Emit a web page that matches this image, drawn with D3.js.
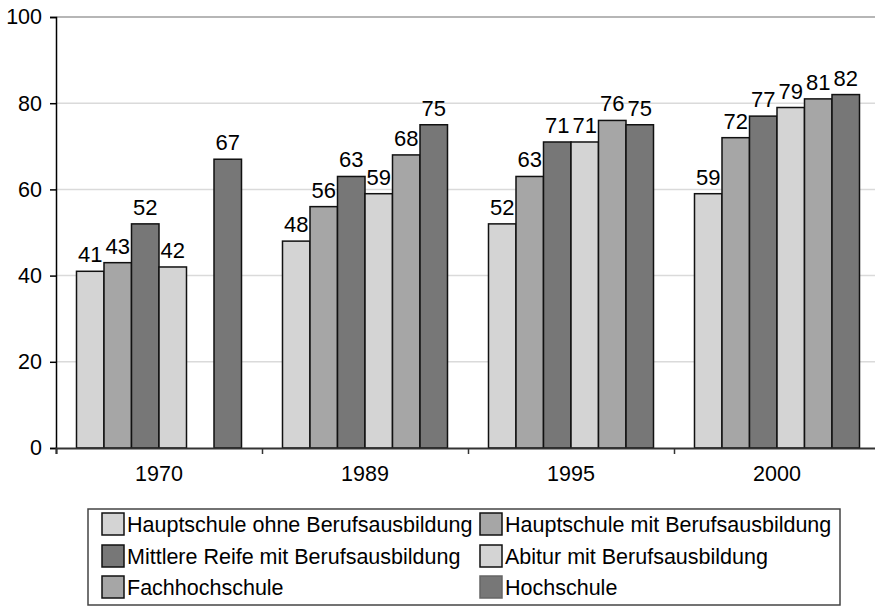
<!DOCTYPE html>
<html>
<head>
<meta charset="utf-8">
<script src="https://cdn.jsdelivr.net/npm/d3@7"></script>
<style>
  body { margin: 0; background: #fff; }
  svg { display: block; font-family: Arial, "Liberation Sans", sans-serif; }
</style>
</head>
<body>
<script>
  const years = ['1970', '1989', '1995', '2000']
  const series = [
    'Hauptschule ohne Berufsausbildung',
    'Hauptschule mit Berufsausbildung',
    'Mittlere Reife mit Berufsausbildung',
    'Abitur mit Berufsausbildung',
    'Fachhochschule',
    'Hochschule'
  ]
  const hauptOhne = [41, 48, 52, 59]
  const hauptMit = [43, 56, 63, 72]
  const mittlereReife = [52, 63, 71, 77]
  const abitur = [42, 59, 71, 79]
  const fachhochschule = [null, 68, 76, 81]
  const hochschule = [67, 75, 75, 82]
  const yTicks = [0, 20, 40, 60, 80, 100]

  const values = [hauptOhne, hauptMit, mittlereReife, abitur, fachhochschule, hochschule]
  const colors = ['#d4d4d4', '#a6a6a6', '#777777', '#d4d4d4', '#a6a6a6', '#777777']

  let size = { width: 875, height: 607 }
  let plot = { left: 56, right: 880, top: 17, bottom: 448 }

  let svg = d3.select('body')
    .append('svg')
    .attr('width', size.width)
    .attr('height', size.height)

  let y = d3.scaleLinear()
    .domain([0, 100])
    .range([plot.bottom, plot.top])

  let x0 = d3.scaleBand()
    .domain(years)
    .range([plot.left, plot.right])
    .paddingInner(0.199)
    .paddingOuter(0.0995)

  let x1 = d3.scaleBand()
    .domain(d3.range(series.length))
    .range([0, x0.bandwidth()])

  // gridlines
  svg.append('g')
    .selectAll('line')
    .data(yTicks.filter(t => t > 0))
    .enter()
    .append('line')
    .attr('x1', plot.left)
    .attr('x2', plot.right)
    .attr('y1', d => y(d))
    .attr('y2', d => y(d))
    .attr('stroke', d => d === 100 ? '#9e9e9e' : '#dadada')
    .attr('stroke-width', 1.5)

  // bars
  let rows = []
  years.forEach((yr, i) => {
    values.forEach((arr, s) => {
      if (arr[i] != null) rows.push({ year: yr, s: s, v: arr[i] })
    })
  })

  svg.append('g')
    .selectAll('rect')
    .data(rows)
    .enter()
    .append('rect')
    .attr('x', d => x0(d.year) + x1(d.s))
    .attr('y', d => y(d.v))
    .attr('width', x1.bandwidth())
    .attr('height', d => y(0) - y(d.v))
    .attr('fill', d => colors[d.s])
    .attr('stroke', '#111')
    .attr('stroke-width', 1.5)

  svg.append('g')
    .selectAll('text')
    .data(rows)
    .enter()
    .append('text')
    .attr('x', d => x0(d.year) + x1(d.s) + x1.bandwidth() / 2)
    .attr('y', d => y(d.v) - 9)
    .attr('text-anchor', 'middle')
    .style('font-size', '22px')
    .attr('fill', '#000')
    .text(d => d.v)

  // y axis
  let yAxis = d3.axisLeft(y)
    .tickValues(yTicks)
    .tickSize(6)
    .tickPadding(8)

  let gy = svg.append('g')
    .attr('transform', 'translate(' + plot.left + ', 0)')
    .call(yAxis)
  gy.select('.domain').attr('stroke', '#000').attr('stroke-width', 1.5)
  gy.selectAll('.tick line').attr('stroke', '#000').attr('stroke-width', 1.5)
  gy.selectAll('.tick text')
    .style('font-size', '21.5px')
    .style('font-family', 'Arial, "Liberation Sans", sans-serif')
    .attr('fill', '#000')

  // x axis: boundary ticks plus centered labels
  let xb = d3.scaleLinear().domain([0, years.length]).range([plot.left, plot.right])
  let gx = svg.append('g')
    .attr('transform', 'translate(0, ' + plot.bottom + ')')
    .call(d3.axisBottom(xb).tickValues(d3.range(years.length + 1)).tickSize(6).tickFormat(''))
  gx.select('.domain').attr('stroke', '#333').attr('stroke-width', 2)
  gx.selectAll('.tick line').attr('stroke', '#333').attr('stroke-width', 1.5)

  let gxl = svg.append('g')
    .attr('transform', 'translate(0, ' + plot.bottom + ')')
    .call(d3.axisBottom(x0).tickSize(0).tickPadding(18))
  gxl.select('.domain').remove()
  gxl.selectAll('.tick text')
    .style('font-size', '21.5px')
    .style('font-family', 'Arial, "Liberation Sans", sans-serif')
    .attr('fill', '#000')

  // legend
  let legend = { x: 88, y: 509, width: 752, height: 96 }
  svg.append('rect')
    .attr('x', legend.x)
    .attr('y', legend.y)
    .attr('width', legend.width)
    .attr('height', legend.height)
    .attr('fill', '#fff')
    .attr('stroke', '#444')
    .attr('stroke-width', 1.5)

  let colX = [102, 480]
  let rowY = [513, 545, 576]
  let items = svg.append('g')
    .selectAll('g')
    .data(series)
    .enter()
    .append('g')
    .attr('transform', (d, i) => 'translate(' + colX[i % 2] + ', ' + rowY[Math.floor(i / 2)] + ')')

  items.append('rect')
    .attr('width', 22)
    .attr('height', 22)
    .attr('fill', (d, i) => colors[i])
    .attr('stroke', (d, i) => i === 5 ? '#666' : '#111')
    .attr('stroke-width', 1.5)

  items.append('text')
    .attr('x', 25)
    .attr('y', 11)
    .attr('dy', '0.35em')
    .style('font-size', '21.5px')
    .attr('fill', '#000')
    .text(d => d)
</script>
</body>
</html>
